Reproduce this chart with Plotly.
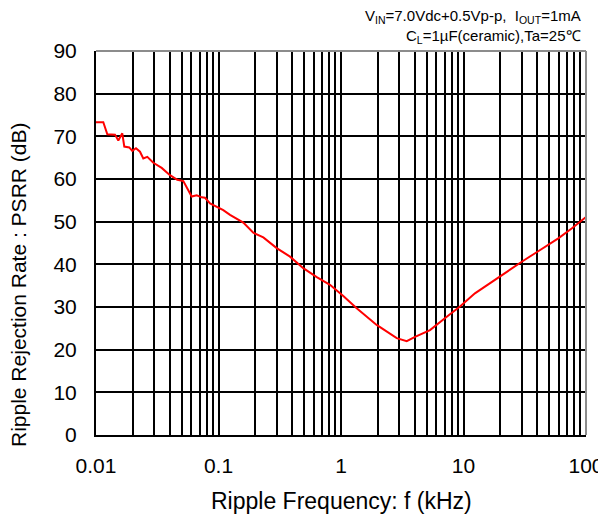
import plotly.graph_objects as go

# Data
freq_khz = [0.01, 0.01147, 0.01237, 0.01429, 0.01521, 0.01639, 0.01702, 0.01869, 0.01978,
            0.0212, 0.02286, 0.02433, 0.02624, 0.02937, 0.03437, 0.04018, 0.0461, 0.05162,
            0.0604, 0.06637, 0.0729, 0.0776, 0.0853, 0.1094, 0.1242, 0.1594, 0.1923,
            0.2322, 0.2986, 0.3835, 0.492, 0.634, 0.813, 0.981, 1.044, 1.343, 1.955,
            2.85, 3.44, 4.02, 5.33, 7.30, 9.36, 12.4, 15.0, 19.2, 24.7, 29.9, 38.4,
            49.2, 59.4, 76.4, 92.2, 100.0]
psrr_db = [73.3, 73.3, 70.5, 70.4, 69.0, 70.7, 67.6, 67.4, 66.6,
           67.2, 66.4, 64.8, 65.2, 63.8, 62.6, 60.9, 59.8, 59.5,
           55.9, 56.2, 55.7, 55.6, 54.3, 52.7, 51.6, 49.8, 47.4,
           46.3, 43.8, 41.8, 39.1, 37.0, 35.2, 33.4, 32.6, 29.7, 25.8,
           22.7, 22.0, 23.0, 24.6, 27.7, 30.1, 33.2, 34.8, 37.0, 39.1, 40.6, 42.6,
           44.5, 46.1, 48.4, 50.4, 51.1]

decades = [0.01, 0.1, 1, 10, 100]
decade_labels = ["0.01", "0.1", "1", "10", "100"]
x_tick_vals = [round(m * 10 ** e, 6) for e in range(-2, 2) for m in range(1, 10)] + [100]
x_tick_text = [decade_labels[decades.index(v)] if v in decades else "" for v in x_tick_vals]
y_tick_vals = [0, 10, 20, 30, 40, 50, 60, 70, 80, 90]

x_title = "Ripple Frequency: f (kHz)"
y_title = "Ripple Rejection Rate : PSRR (dB)"
header_1 = "V<sub>IN</sub>=7.0Vdc+0.5Vp-p,  I<sub>OUT</sub>=1mA"
header_2 = "C<sub>L</sub>=1µF(ceramic),Ta=25℃"

FONT = "Liberation Sans, Arial, sans-serif"

fig = go.Figure()
fig.add_trace(go.Scatter(x=freq_khz, y=psrr_db, mode="lines",
                         line=dict(color="#ff0000", width=2), showlegend=False))

fig.update_layout(
    width=606, height=518,
    margin=dict(l=88, r=28, t=43, b=91),
    paper_bgcolor="white", plot_bgcolor="white",
    font=dict(family=FONT, color="black"),
    xaxis=dict(type="log", range=[-2, 2], automargin=False,
               tickvals=x_tick_vals, ticktext=x_tick_text,
               showgrid=True, gridcolor="black", gridwidth=1.5,
               showline=True, linecolor="black", linewidth=2,
               ticks="", tickfont=dict(size=21), ticklabelstandoff=11,
               zeroline=False),
    yaxis=dict(range=[0, 90], tickvals=y_tick_vals, automargin=False,
               showgrid=True, gridcolor="black", gridwidth=1.5,
               showline=True, linecolor="black", linewidth=2,
               ticks="", tickfont=dict(size=21), ticklabelstandoff=13,
               zeroline=False),
)

# top/right frame (grey)
fig.add_shape(type="line", xref="paper", yref="paper", x0=0, x1=1, y0=1, y1=1,
              line=dict(color="#8c8c8c", width=2))
fig.add_shape(type="line", xref="paper", yref="paper", x0=1, x1=1, y0=0, y1=1,
              line=dict(color="#8c8c8c", width=2))

# axis titles
fig.add_annotation(xref="paper", yref="paper", x=0.5, y=0, yshift=-66,
                   xanchor="center", yanchor="middle", showarrow=False,
                   text=x_title, font=dict(size=23, family=FONT))
fig.add_annotation(xref="paper", yref="paper", x=0, y=0.5, xshift=-78, yshift=-42,
                   xanchor="center", yanchor="middle", showarrow=False, textangle=-90,
                   text=y_title, font=dict(size=21, family=FONT))

# header
fig.add_annotation(xref="paper", yref="paper", x=1.0, y=1.0, yshift=35, xshift=-3,
                   xanchor="right", yanchor="middle", showarrow=False, align="right",
                   text=header_1, font=dict(size=15, family=FONT))
fig.add_annotation(xref="paper", yref="paper", x=1.0, y=1.0, yshift=15, xshift=-3,
                   xanchor="right", yanchor="middle", showarrow=False, align="right",
                   text=header_2, font=dict(size=15, family=FONT))

fig.write_html("out.html")
